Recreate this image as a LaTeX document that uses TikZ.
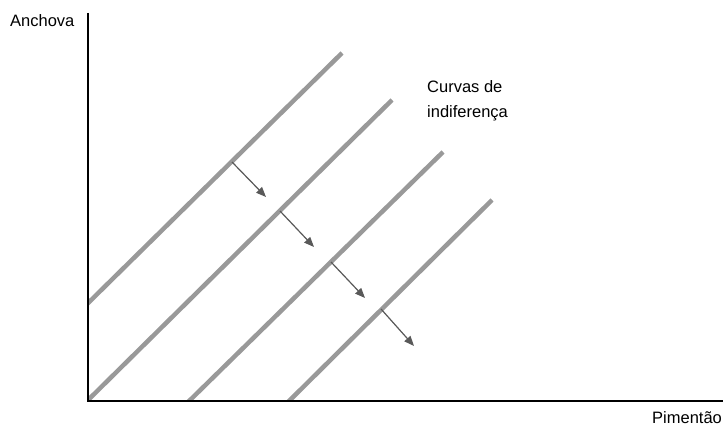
\documentclass[tikz,border=0pt]{standalone}
\usepackage{fontspec}
\setmainfont{Liberation Sans}
\usetikzlibrary{arrows.meta}

\begin{document}
\begin{tikzpicture}[x=1pt, y=-1pt, >={Triangle[length=10pt, width=8pt]},
  curve/.style={line width=4.5pt, draw=black!40},
  shiftarrow/.style={->, line width=1.2pt, draw=black!65, fill=black!65},
  label/.style={font=\fontsize{16.5}{20}\selectfont, anchor=base west, inner sep=0pt}]
  \useasboundingbox (0,0) rectangle (727,427);

  % Indifference curves
  \begin{scope}
    \clip (89,0) rectangle (727,400);
    \draw[curve] (80,311) -- (342,53);
    \draw[curve] (80,408) -- (392,100);
    \draw[curve] (182,408) -- (443,152);
    \draw[curve] (282,408) -- (492,200);
  \end{scope}

  % Axes
  \coordinate (top) at (88,13);
  \coordinate (O) at (88,401);
  \coordinate (right) at (723,401);
  \draw[line width=1.8pt] (top) -- (O) -- (right);
  \node[label] (anchova) at (10,27) {Anchova};
  \node[label] (pimentao) at (652,423) {Pimentão};

  % Label of the curves
  \node[label] (curvas) at (427,93) {Curvas de};
  \node[label] (indif) at (427,118) {indiferença};

  % Arrows between curves
  \coordinate (a1) at (232,162);
  \coordinate (b1) at (266,197);
  \coordinate (a2) at (280,211);
  \coordinate (b2) at (314,247);
  \coordinate (a3) at (331,262);
  \coordinate (b3) at (365,298);
  \coordinate (a4) at (381,309);
  \coordinate (b4) at (414,346);
  \foreach \i in {1,...,4}
    \draw[shiftarrow] (a\i) -- (b\i);
\end{tikzpicture}
\end{document}
